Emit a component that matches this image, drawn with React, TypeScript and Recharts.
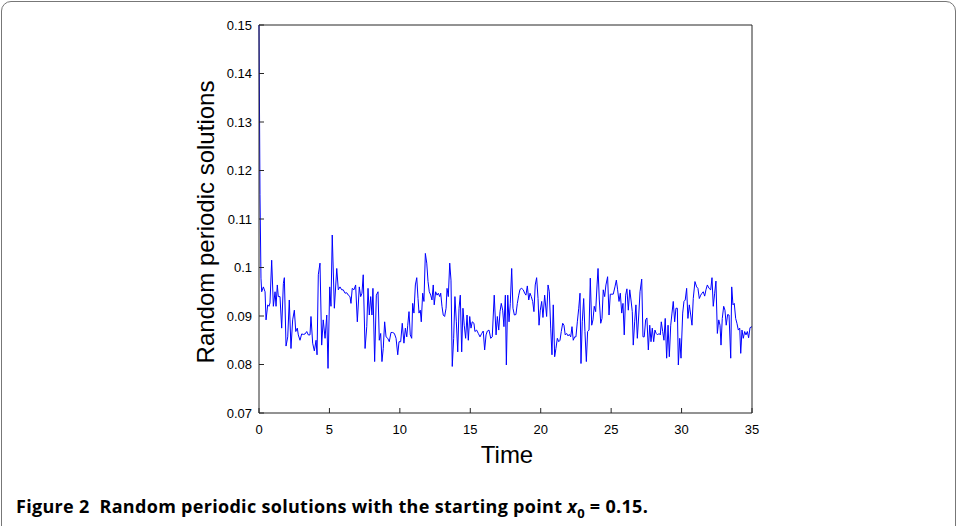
import { LineChart, Line, XAxis, YAxis } from "recharts";

// time samples
const timePoints = [
  0, 0.07, 0.14, 0.19, 0.31, 0.43, 0.5, 0.62, 0.71, 0.78, 0.9, 1.02, 1.14, 1.21, 1.3, 1.37, 1.49, 1.61, 1.73, 1.8,
  1.92, 2.04, 2.15, 2.27, 2.39, 2.51, 2.61, 2.72, 2.79, 2.91, 3.03, 3.15, 3.27, 3.39, 3.5, 3.62, 3.69, 3.81, 3.93, 4.05,
  4.12, 4.21, 4.33, 4.45, 4.56, 4.69, 4.81, 4.9, 5.02, 5.11, 5.2, 5.35, 5.52, 5.63, 5.75, 5.87, 5.98, 6.11, 6.23, 6.34,
  6.46, 6.53, 6.62, 6.74, 6.86, 6.98, 7.12, 7.22, 7.31, 7.4, 7.53, 7.65, 7.74, 7.83, 7.93, 8.02, 8.09, 8.21, 8.33, 8.45,
  8.54, 8.64, 8.73, 8.82, 8.92, 9.02, 9.14, 9.25, 9.37, 9.49, 9.61, 9.73, 9.85, 9.94, 10.06, 10.17, 10.29, 10.39, 10.49, 10.56,
  10.65, 10.74, 10.84, 10.91, 11.0, 11.1, 11.2, 11.29, 11.36, 11.45, 11.52, 11.62, 11.71, 11.81, 11.91, 12.0, 12.09, 12.19, 12.28, 12.37,
  12.44, 12.54, 12.64, 12.73, 12.83, 12.9, 12.99, 13.08, 13.18, 13.28, 13.35, 13.44, 13.54, 13.63, 13.72, 13.82, 13.91, 14.01, 14.11, 14.2,
  14.29, 14.39, 14.48, 14.57, 14.67, 14.77, 14.86, 14.96, 15.05, 15.14, 15.26, 15.33, 15.45, 15.57, 15.69, 15.81, 15.92, 16.02, 16.12, 16.21,
  16.33, 16.45, 16.56, 16.7, 16.83, 16.92, 17.02, 17.11, 17.2, 17.3, 17.39, 17.49, 17.56, 17.66, 17.75, 17.84, 17.94, 18.03, 18.13, 18.24,
  18.34, 18.44, 18.53, 18.65, 18.76, 18.86, 18.95, 19.05, 19.15, 19.24, 19.33, 19.43, 19.52, 19.61, 19.71, 19.81, 19.88, 19.97, 20.07, 20.16,
  20.28, 20.42, 20.52, 20.61, 20.71, 20.8, 20.89, 20.99, 21.08, 21.18, 21.28, 21.37, 21.46, 21.56, 21.65, 21.74, 21.84, 21.94, 22.03, 22.13,
  22.22, 22.31, 22.41, 22.5, 22.6, 22.7, 22.79, 22.86, 22.95, 23.05, 23.14, 23.24, 23.33, 23.43, 23.52, 23.62, 23.71, 23.8, 23.9, 24.0,
  24.07, 24.16, 24.26, 24.35, 24.44, 24.54, 24.63, 24.75, 24.85, 24.94, 25.06, 25.15, 25.27, 25.37, 25.46, 25.56, 25.65, 25.75, 25.84, 25.93,
  26.03, 26.12, 26.22, 26.32, 26.41, 26.5, 26.57, 26.67, 26.76, 26.86, 26.96, 27.05, 27.17, 27.26, 27.35, 27.45, 27.54, 27.64, 27.74, 27.83,
  27.92, 28.02, 28.11, 28.2, 28.3, 28.4, 28.49, 28.56, 28.66, 28.75, 28.84, 28.94, 29.04, 29.13, 29.23, 29.32, 29.41, 29.51, 29.6, 29.7,
  29.77, 29.87, 29.96, 30.08, 30.17, 30.26, 30.36, 30.45, 30.55, 30.65, 30.74, 30.83, 30.95, 31.07, 31.16, 31.26, 31.36, 31.45, 31.54, 31.64,
  31.73, 31.83, 31.95, 32.07, 32.16, 32.25, 32.35, 32.44, 32.54, 32.64, 32.73, 32.8, 32.89, 32.99, 33.08, 33.17, 33.27, 33.37, 33.49, 33.56,
  33.65, 33.74, 33.84, 33.93, 34.03, 34.13, 34.2, 34.29, 34.38, 34.48, 34.57, 34.67, 34.76, 34.86, 35.0,
];

// random periodic solution x(t)
const solutionValues = [
  0.15, 0.115, 0.0978, 0.095, 0.096, 0.095, 0.0892, 0.0923, 0.092, 0.0927, 0.1015, 0.092, 0.095, 0.092, 0.0964, 0.094, 0.094, 0.0875, 0.0967, 0.0979,
  0.0838, 0.0857, 0.0933, 0.0833, 0.0892, 0.0912, 0.0868, 0.0875, 0.0861, 0.085, 0.0863, 0.0862, 0.0863, 0.0868, 0.0861, 0.0861, 0.0899, 0.0844, 0.0828, 0.085,
  0.082, 0.0985, 0.1009, 0.084, 0.0892, 0.0854, 0.0902, 0.0792, 0.096, 0.092, 0.1067, 0.0916, 0.0998, 0.0954, 0.096, 0.0954, 0.0954, 0.0947, 0.0948, 0.0943,
  0.094, 0.0926, 0.0957, 0.0954, 0.0964, 0.0888, 0.096, 0.094, 0.0947, 0.0985, 0.0833, 0.0878, 0.0957, 0.0902, 0.094, 0.0902, 0.0957, 0.0806, 0.0943, 0.095,
  0.085, 0.0864, 0.0806, 0.0833, 0.0888, 0.0857, 0.0854, 0.0847, 0.0866, 0.0866, 0.0864, 0.0854, 0.082, 0.0847, 0.0847, 0.0885, 0.0844, 0.0875, 0.0857, 0.0881,
  0.0909, 0.0861, 0.0854, 0.0926, 0.0906, 0.0964, 0.0979, 0.0936, 0.0906, 0.0912, 0.0888, 0.0947, 0.093, 0.1029, 0.1009, 0.0971, 0.095, 0.0943, 0.0933, 0.0964,
  0.0923, 0.095, 0.0943, 0.0947, 0.094, 0.0947, 0.092, 0.0902, 0.0899, 0.0916, 0.0957, 0.094, 0.1009, 0.0974, 0.0796, 0.0854, 0.094, 0.0888, 0.0826, 0.0916,
  0.0943, 0.0826, 0.0916, 0.0881, 0.0854, 0.0902, 0.085, 0.0899, 0.0875, 0.0888, 0.0885, 0.0868, 0.0871, 0.0864, 0.0857, 0.0864, 0.0869, 0.083, 0.0861, 0.0869,
  0.0871, 0.0854, 0.0857, 0.0943, 0.0861, 0.0899, 0.0871, 0.0909, 0.0926, 0.0912, 0.0878, 0.0943, 0.0799, 0.0943, 0.0888, 0.0926, 0.0998, 0.0916, 0.0902, 0.0903,
  0.0926, 0.0943, 0.0955, 0.0957, 0.0954, 0.0947, 0.0943, 0.0962, 0.0933, 0.0947, 0.094, 0.093, 0.0909, 0.0964, 0.0979, 0.0936, 0.0881, 0.0912, 0.093, 0.0897,
  0.0943, 0.0899, 0.0964, 0.095, 0.0875, 0.082, 0.0923, 0.0816, 0.0833, 0.0854, 0.0847, 0.085, 0.0868, 0.0885, 0.0881, 0.0861, 0.0864, 0.0859, 0.0862, 0.0857,
  0.0878, 0.085, 0.0857, 0.0857, 0.0888, 0.0916, 0.0947, 0.0802, 0.0888, 0.0936, 0.0868, 0.0806, 0.0868, 0.0871, 0.0978, 0.0881, 0.0892, 0.092, 0.0909, 0.0964,
  0.0998, 0.0933, 0.0885, 0.0895, 0.0954, 0.094, 0.0964, 0.0981, 0.0902, 0.0945, 0.0945, 0.0945, 0.096, 0.0974, 0.0954, 0.093, 0.0947, 0.0906, 0.0926, 0.0861,
  0.0943, 0.0956, 0.0912, 0.0954, 0.0933, 0.0909, 0.084, 0.0888, 0.0923, 0.0854, 0.0902, 0.095, 0.0976, 0.0857, 0.0857, 0.0892, 0.0896, 0.083, 0.0881, 0.0847,
  0.0875, 0.0847, 0.0871, 0.0864, 0.0861, 0.0864, 0.0861, 0.0888, 0.0868, 0.085, 0.0895, 0.0813, 0.0881, 0.0816, 0.0881, 0.0906, 0.093, 0.0888, 0.0916, 0.0916,
  0.0799, 0.0854, 0.0813, 0.0906, 0.093, 0.0933, 0.0957, 0.0895, 0.0923, 0.0902, 0.0881, 0.0936, 0.0971, 0.096, 0.0957, 0.0936, 0.0943, 0.0947, 0.095, 0.0941,
  0.0954, 0.0964, 0.0957, 0.0954, 0.0979, 0.092, 0.0947, 0.0972, 0.0864, 0.0892, 0.0881, 0.084, 0.0895, 0.092, 0.0912, 0.0881, 0.0903, 0.0902, 0.0813, 0.096,
  0.0923, 0.0926, 0.0895, 0.0885, 0.0871, 0.0875, 0.0823, 0.0871, 0.0854, 0.0868, 0.0861, 0.0868, 0.0855, 0.0876, 0.0878,
];

const xTicks = [0, 5, 10, 15, 20, 25, 30, 35];
const yTicks = [0.07, 0.08, 0.09, 0.1, 0.11, 0.12, 0.13, 0.14, 0.15];

const chartData = timePoints.map((t, i) => ({ t, x: solutionValues[i] }));

const axisFont = { fill: "#000", fontSize: 13, fontFamily: "'Liberation Sans', Arial, sans-serif" };
const axisColor = "#262626";
const titleFont = "'Liberation Sans', Arial, sans-serif";

export default function App() {
  return (
    <div style={{ position: "fixed", left: 0, top: 0, width: 956, height: 526, background: "#fff", overflow: "hidden" }}>
      {/* rounded frame around the figure */}
      <div
        style={{
          position: "absolute",
          left: 1,
          top: 1,
          width: 955,
          height: 560,
          border: "1px solid #777",
          borderRadius: 10,
          boxSizing: "border-box",
        }}
      />

      <div style={{ position: "absolute", left: 0, top: 0 }}>
        <LineChart width={956} height={526} data={chartData} margin={{ top: 24, right: 203, left: 199, bottom: 83 }}>
          <XAxis
            dataKey="t"
            type="number"
            domain={[0, 35]}
            ticks={xTicks}
            height={30}
            stroke={axisColor}
            tick={axisFont}
            tickSize={-5}
            tickMargin={17}
            interval={0}
          />
          <XAxis
            xAxisId="top"
            orientation="top"
            dataKey="t"
            type="number"
            domain={[0, 35]}
            ticks={xTicks}
            height={1}
            stroke={axisColor}
            tick={false}
            tickSize={-5}
            interval={0}
          />
          <YAxis
            type="number"
            domain={[0.07, 0.15]}
            ticks={yTicks}
            width={60}
            stroke={axisColor}
            tick={axisFont}
            tickSize={-5}
            tickMargin={12}
            interval={0}
            allowDataOverflow
            tickFormatter={(v: number) => String(Number(v.toFixed(2)))}
          />
          <YAxis
            yAxisId="right"
            orientation="right"
            type="number"
            domain={[0.07, 0.15]}
            ticks={yTicks}
            width={1}
            stroke={axisColor}
            tick={false}
            tickSize={-5}
            interval={0}
            allowDataOverflow
          />
          {/* invisible copy so the top/right frame axes are attached to a series */}
          <Line
            xAxisId="top"
            yAxisId="right"
            dataKey="x"
            stroke="none"
            dot={false}
            activeDot={false}
            isAnimationActive={false}
          />
          <Line
            dataKey="x"
            type="linear"
            stroke="#0000ff"
            strokeWidth={1}
            dot={false}
            activeDot={false}
            isAnimationActive={false}
          />
        </LineChart>
      </div>

      {/* axis titles */}
      <div
        style={{
          position: "absolute",
          left: 206,
          top: 222,
          transform: "translate(-50%, -50%) rotate(-90deg)",
          fontSize: 24,
          lineHeight: 1,
          fontFamily: titleFont,
          whiteSpace: "nowrap",
        }}
      >
        Random periodic solutions
      </div>
      <div
        style={{
          position: "absolute",
          left: 507,
          top: 443,
          transform: "translateX(-50%)",
          fontSize: 24,
          lineHeight: 1,
          fontFamily: titleFont,
          whiteSpace: "nowrap",
        }}
      >
        Time
      </div>

      {/* caption */}
      <div
        style={{
          position: "absolute",
          left: 16,
          top: 494,
          fontSize: 18,
          fontWeight: 700,
          letterSpacing: 0.3,
          fontFamily: "'Open Sans', 'Noto Sans', sans-serif",
          whiteSpace: "nowrap",
          color: "#000",
        }}
      >
        Figure 2{"\u00a0\u00a0"}Random periodic solutions with the starting point <i>x</i>
        <sub style={{ fontSize: 13 }}>0</sub> = 0.15.
      </div>
    </div>
  );
}
